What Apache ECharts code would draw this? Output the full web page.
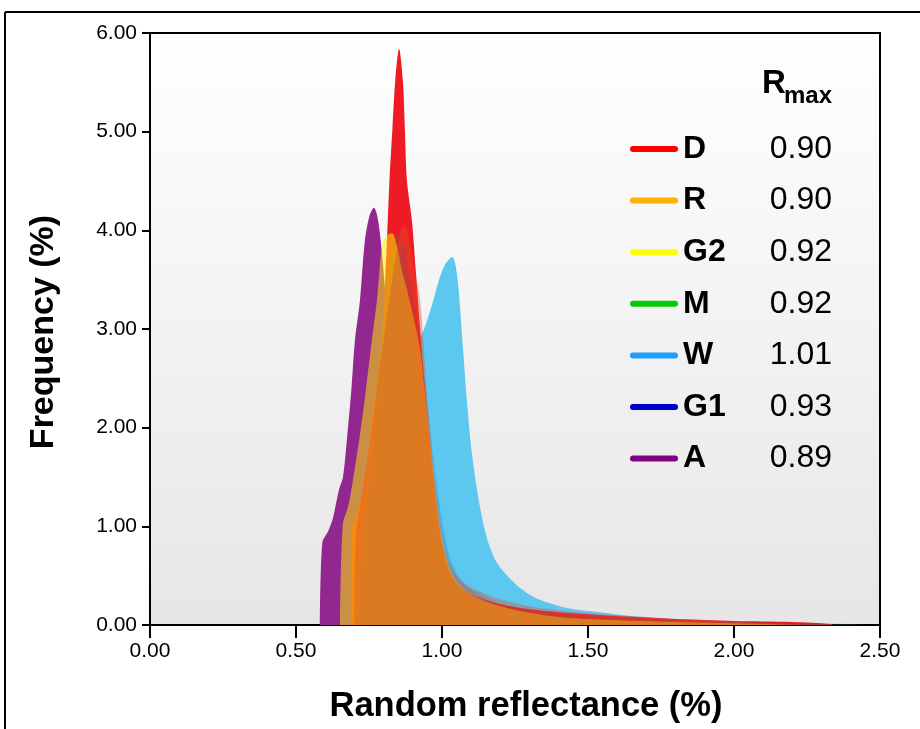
<!DOCTYPE html>
<html>
<head>
<meta charset="utf-8">
<script src="https://cdn.jsdelivr.net/npm/echarts@6/dist/echarts.min.js"></script>
<style>html,body{margin:0;padding:0;background:#fff;}#c{width:920px;height:729px;}</style>
</head>
<body>
<div id="c"></div>
<script>
// ---- data (x = random reflectance %, y = frequency %) ----
const legendNames = ['D', 'R', 'G2', 'M', 'W', 'G1', 'A'];
const rmaxValues = ['0.90', '0.90', '0.92', '0.92', '1.01', '0.93', '0.89'];
const xTicks = [0, 0.5, 1.0, 1.5, 2.0, 2.5];
const yTicks = [0, 1, 2, 3, 4, 5, 6];

const dataA = [[0.582,0],[0.590,0.83],[0.610,0.95],[0.627,1.09],[0.647,1.37],[0.661,1.50],[0.675,1.90],[0.690,2.40],[0.702,2.89],[0.719,3.29],[0.736,3.90],[0.752,4.15],[0.767,4.23],[0.778,4.15],[0.790,3.90],[0.805,3.40],[0.820,2.80],[0.840,2.10],[0.860,1.50],[0.880,1.05],[0.900,0.72],[0.950,0.38],[1.000,0.22],[1.100,0.11],[1.300,0.05],[1.600,0.02],[2.000,0]];
const dataW = [[0.780,0],[0.800,0.30],[0.830,0.80],[0.860,1.40],[0.890,2.00],[0.910,2.45],[0.925,2.89],[0.945,3.05],[0.970,3.29],[0.990,3.50],[1.010,3.65],[1.035,3.73],[1.048,3.62],[1.060,3.29],[1.072,2.80],[1.085,2.28],[1.100,1.80],[1.120,1.37],[1.137,1.09],[1.160,0.82],[1.190,0.62],[1.230,0.48],[1.270,0.37],[1.310,0.29],[1.370,0.22],[1.430,0.17],[1.540,0.13],[1.650,0.09],[1.800,0.06],[2.000,0.03],[2.200,0.01],[2.300,0]];
const dataD = [[0.690,0],[0.693,1.03],[0.702,1.05],[0.736,1.47],[0.760,2.05],[0.780,2.50],[0.795,2.89],[0.810,3.80],[0.820,4.50],[0.830,5.02],[0.840,5.52],[0.853,5.84],[0.866,5.52],[0.873,5.02],[0.880,4.50],[0.897,4.10],[0.910,3.60],[0.925,3.00],[0.940,2.45],[0.955,1.95],[0.970,1.50],[0.985,1.10],[1.000,0.82],[1.020,0.58],[1.050,0.42],[1.100,0.31],[1.200,0.21],[1.300,0.16],[1.400,0.13],[1.600,0.09],[1.800,0.06],[2.000,0.04],[2.200,0.03],[2.330,0.01],[2.340,0]];
const dataG1 = [[0.710,0],[0.730,0.90],[0.760,1.70],[0.790,2.60],[0.820,3.30],[0.845,3.75],[0.866,3.87],[0.890,3.50],[0.925,2.89],[0.950,2.25],[0.970,1.70],[0.990,1.25],[1.010,0.90],[1.030,0.66],[1.060,0.48],[1.100,0.36],[1.200,0.22],[1.400,0.12],[1.700,0.06],[2.000,0.03],[2.400,0.01],[2.450,0]];
const dataM = [[0.700,0],[0.720,0.80],[0.750,1.60],[0.780,2.50],[0.810,3.40],[0.830,3.85],[0.846,3.97],[0.862,3.80],[0.880,3.40],[0.900,2.95],[0.920,2.45],[0.940,1.95],[0.960,1.50],[0.980,1.10],[1.000,0.80],[1.020,0.58],[1.050,0.42],[1.100,0.30],[1.200,0.19],[1.400,0.10],[1.700,0.05],[2.000,0.03],[2.300,0.015],[2.470,0]];
const dataG2 = [[0.651,0],[0.660,1.01],[0.680,1.22],[0.695,1.47],[0.720,1.95],[0.740,2.40],[0.760,2.89],[0.777,3.29],[0.795,3.85],[0.812,3.95],[0.829,3.97],[0.845,3.85],[0.862,3.60],[0.880,3.40],[0.900,3.15],[0.925,2.80],[0.940,2.40],[0.955,1.98],[0.970,1.56],[0.985,1.16],[1.000,0.88],[1.020,0.63],[1.050,0.44],[1.100,0.31],[1.200,0.19],[1.350,0.10],[1.500,0.06],[1.800,0.03],[2.100,0.01],[2.200,0]];
const dataR = [[0.700,0],[0.705,0.90],[0.730,1.40],[0.760,2.00],[0.790,2.70],[0.820,3.30],[0.845,3.80],[0.860,4.00],[0.872,4.06],[0.885,3.95],[0.900,3.70],[0.925,3.30],[0.940,2.70],[0.955,2.10],[0.970,1.60],[0.985,1.20],[1.000,0.90],[1.020,0.66],[1.050,0.50],[1.100,0.38],[1.200,0.26],[1.300,0.19],[1.400,0.15],[1.500,0.12],[1.600,0.10],[1.700,0.08],[1.800,0.06],[1.900,0.05],[2.000,0.03],[2.100,0.02],[2.200,0.01],[2.250,0]];

// legend (line) colours and fill styles
const legendColors = {D:'#ff0000', R:'#ffb000', G2:'#ffff00', M:'#00cc00', W:'#1e9fff', G1:'#0000cc', A:'#800080'};
const fills = {
  W:  {color:'#5cc8f0', opacity:1,    data:dataW},
  A:  {color:'#92278f', opacity:1,    data:dataA},
  D:  {color:'#ed1c24', opacity:1,    data:dataD},
  G1: {color:'#2e3192', opacity:0.18, data:dataG1},
  M:  {color:'#00a651', opacity:0.15, data:dataM},
  G2: {color:'#fff200', opacity:0.52, data:dataG2},
  R:  {color:'#e0502a', opacity:0.4,  data:dataR}
};
const drawOrder = ['W', 'A', 'D', 'G1', 'M', 'G2', 'R'];

const FONT = "'Liberation Sans', Arial, sans-serif";
const chart = echarts.init(document.getElementById('c'), null, {renderer:'canvas'});

const series = drawOrder.map(function (k) {
  const f = fills[k];
  return {
    name: k, type: 'line', data: f.data, symbol: 'none',
    smooth: 0.3,
    lineStyle: {width: 0, opacity: 0},
    itemStyle: {color: legendColors[k]},
    areaStyle: {color: f.color, opacity: f.opacity},
    silent: true, animation: false
  };
});

const rmaxMap = {};
legendNames.forEach(function (n, i) { rmaxMap[n] = rmaxValues[i]; });

chart.setOption({
  animation: false,
  backgroundColor: '#ffffff',
  grid: {
    left: 150, right: 40, top: 33, bottom: 104, show: true,
    borderColor: '#000', borderWidth: 2,
    backgroundColor: {type:'linear', x:0, y:0, x2:0, y2:1, colorStops:[{offset:0, color:'#ffffff'},{offset:1, color:'#e6e6e6'}]}
  },
  xAxis: {
    type: 'value', min: 0, max: 2.5, interval: 0.5,
    axisLine: {show: true, lineStyle: {color:'#000', width: 2}},
    axisTick: {show: true, length: 13, lineStyle: {color:'#000', width: 2}},
    axisLabel: {margin: 16, fontFamily: FONT, fontSize: 21, color:'#000', formatter: function (v) { return v.toFixed(2); }},
    splitLine: {show: false}
  },
  yAxis: {
    type: 'value', min: 0, max: 6, interval: 1,
    axisLine: {show: true, lineStyle: {color:'#000', width: 2}},
    axisTick: {show: true, length: 8, lineStyle: {color:'#000', width: 2}},
    axisLabel: {margin: 13, fontFamily: FONT, fontSize: 21, color:'#000', formatter: function (v) { return v.toFixed(2); }},
    splitLine: {show: false}
  },
  legend: {
    orient: 'vertical', left: 630, top: 133, padding: 0,
    itemWidth: 48, itemHeight: 6, itemGap: 19.6, selectedMode: false,
    data: legendNames.map(function (n) {
      return {name: n, icon: 'path://M3,0 L45,0 A3,3 0 0 1 45,6 L3,6 A3,3 0 0 1 3,0 Z', itemStyle: {color: legendColors[n], opacity: 1}};
    }),
    formatter: function (n) { return '{n|' + n + '}{v|' + rmaxMap[n] + '}'; },
    textStyle: {
      rich: {
        n: {fontFamily: FONT, fontWeight: 'bold', fontSize: 32, color: '#000', width: 85},
        v: {fontFamily: FONT, fontSize: 32, color: '#000', width: 64, align: 'right'}
      }
    }
  },
  graphic: [
    {type:'line', shape:{x1:5, y1:12, x2:920, y2:12}, style:{stroke:'#000', lineWidth:2}, silent:true},
    {type:'line', shape:{x1:5, y1:12, x2:5, y2:729}, style:{stroke:'#000', lineWidth:2}, silent:true},
    {type:'text', x:762, y:67, style:{text:'R', fontFamily:FONT, fontWeight:'bold', fontSize:33, fill:'#000'}, silent:true},
    {type:'text', x:784, y:84, style:{text:'max', fontFamily:FONT, fontWeight:'bold', fontSize:24, fill:'#000'}, silent:true},
    {type:'text', x:44, y:332, rotation:Math.PI/2, style:{text:'Frequency (%)', fontFamily:FONT, fontWeight:'bold', fontSize:34, fill:'#000', align:'center', verticalAlign:'middle'}, silent:true},
    {type:'text', x:526, y:706, style:{text:'Random reflectance (%)', fontFamily:FONT, fontWeight:'bold', fontSize:34.5, fill:'#000', align:'center', verticalAlign:'middle'}, silent:true}
  ],
  series: series
});
</script>
</body>
</html>
